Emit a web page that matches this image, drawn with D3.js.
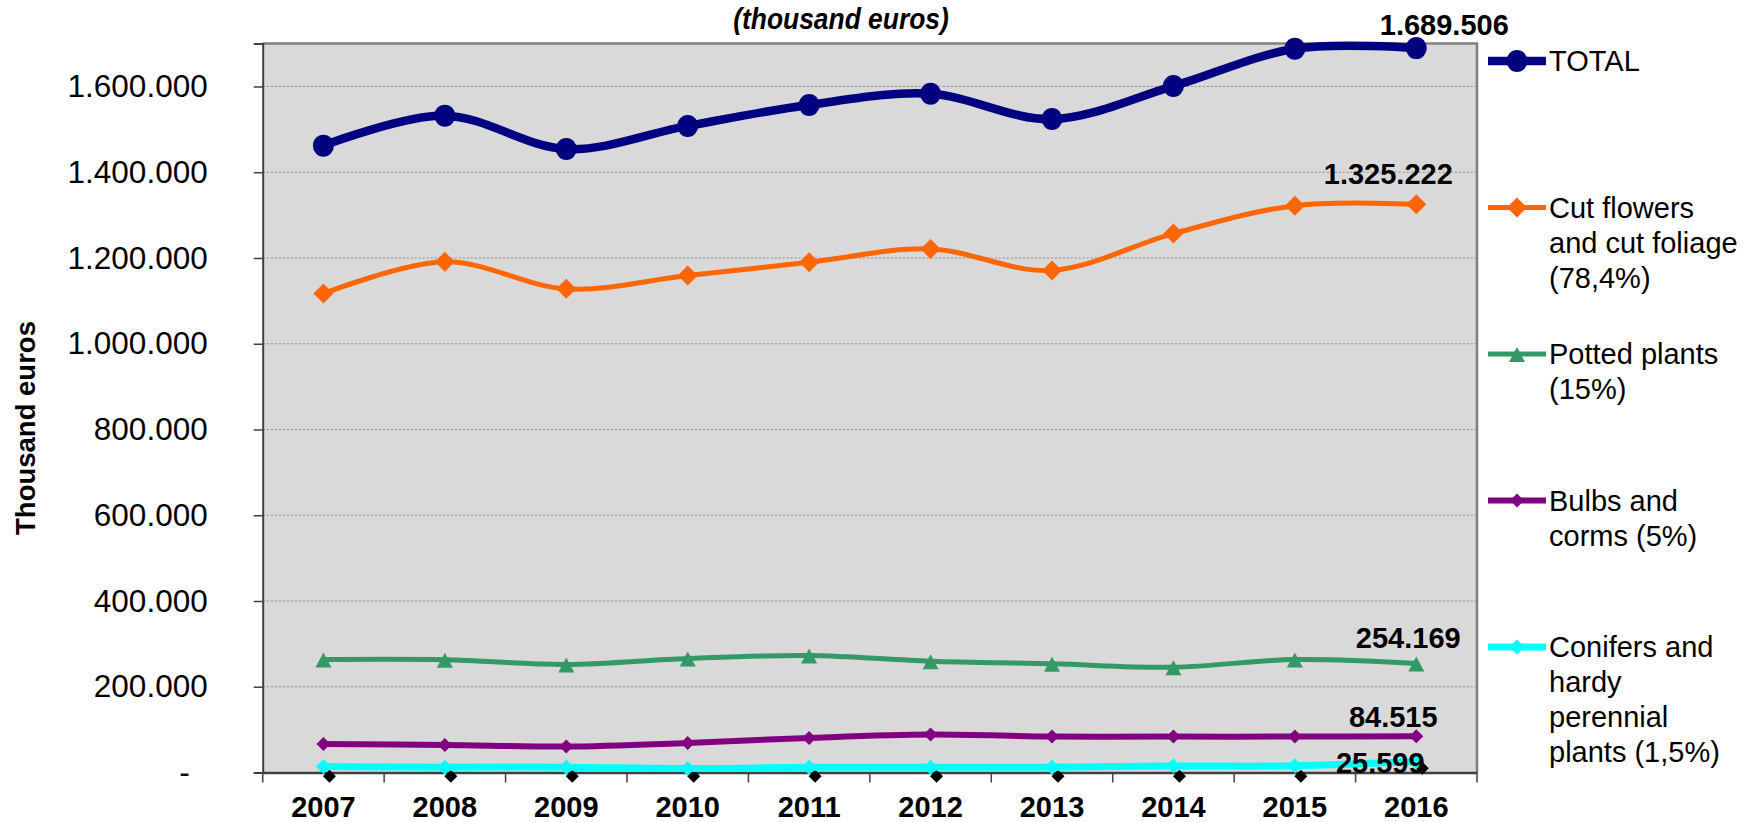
<!DOCTYPE html>
<html>
<head>
<meta charset="utf-8">
<script src="https://cdn.jsdelivr.net/npm/d3@7/dist/d3.min.js"></script>
<style>
	body { margin: 0; background: #ffffff; }
	svg { display: block; font-family: "Liberation Sans", Arial, sans-serif; }
</style>
</head>
<body>
<div id="chart"></div>
<script>

var years = ["2007", "2008", "2009", "2010", "2011", "2012", "2013", "2014", "2015", "2016"];
var totalVals = [1462000, 1532000, 1454000, 1508000, 1557000, 1583000, 1524000, 1601000, 1688000, 1689506];
var cutFlowerVals = [1117000, 1191000, 1128000, 1159000, 1190000, 1221000, 1171000, 1257000, 1322000, 1325222];
var pottedVals = [263500, 263000, 252000, 266000, 272800, 259600, 253500, 245600, 263500, 254169];
var bulbVals = [66700, 64400, 60500, 69000, 80700, 88400, 83700, 83700, 83700, 84515];
var coniferVals = [14000, 12500, 12500, 9500, 12000, 12000, 12500, 15000, 15500, 25599];
var otherVals = [-9000, -9000, -9000, -9000, -9000, -9000, -9000, -9000, -9000, 10000];
var yTicks = [0, 200000, 400000, 600000, 800000, 1000000, 1200000, 1400000, 1600000];
var legendLabels = [
	["TOTAL"],
	["Cut flowers", "and cut foliage", "(78,4%)"],
	["Potted plants", "(15%)"],
	["Bulbs and", "corms (5%)"],
	["Conifers and", "hardy", "perennial", "plants (1,5%)"]
];

var esLocale = d3.formatLocale({decimal: ",", thousands: ".", grouping: [3], currency: ["", " €"]});
var fmt = esLocale.format(",d");

var plotL = 262.7, plotR = 1477, plotT = 43.6, plotB = 772.5;

var svg = d3.select("#chart").append("svg")
	.attr("width", 1744)
	.attr("height", 822);

var x = d3.scaleBand()
	.domain(years)
	.range([plotL, plotR])
	.padding(0);

var y = d3.scaleLinear()
	.domain([0, 1700000])
	.range([plotB, plotT]);

function cx(d, i) { return x(years[i]) + x.bandwidth() / 2; }

// plot background
svg.append("rect")
	.attr("x", plotL)
	.attr("y", plotT)
	.attr("width", plotR - plotL)
	.attr("height", plotB - plotT)
	.attr("fill", "#d9d9d9");

// gridlines
svg.append("g")
	.selectAll("line")
	.data(yTicks.filter(function (d) { return d > 0; }))
	.enter()
	.append("line")
	.attr("x1", plotL)
	.attr("x2", plotR)
	.attr("y1", function (d) { return y(d); })
	.attr("y2", function (d) { return y(d); })
	.attr("stroke", "#8c8c8c")
	.attr("stroke-width", 1)
	.attr("stroke-dasharray", "2,2");

// frame top + right
svg.append("path")
	.attr("d", "M" + plotL + "," + plotT + "H" + plotR + "V" + plotB)
	.attr("fill", "none")
	.attr("stroke", "#808080")
	.attr("stroke-width", 2.5);

// y axis
var yAxis = svg.append("g")
	.attr("transform", "translate(" + plotL + ",0)")
	.call(d3.axisLeft(y)
		.tickValues(yTicks)
		.tickSize(9)
		.tickPadding(46)
		.tickFormat(function (d) { return d === 0 ? "-" : fmt(d); }));
yAxis.select(".domain").attr("stroke", "#404040").attr("stroke-width", 2);
yAxis.selectAll(".tick line").attr("stroke", "#404040").attr("stroke-width", 1.5);
yAxis.selectAll("text")
	.attr("font-size", "31.5px")
	.attr("font-family", "'Liberation Sans', Arial, sans-serif")
	.attr("fill", "#000");
yAxis.selectAll(".tick")
	.filter(function (d) { return d === 0; })
	.select("text")
	.attr("dx", "-18");

// x axis
var xAxis = svg.append("g")
	.attr("transform", "translate(0," + plotB + ")")
	.call(d3.axisBottom(x).tickSize(0).tickPadding(24));
xAxis.select(".domain").attr("stroke", "#404040").attr("stroke-width", 2.5);
xAxis.selectAll("text")
	.attr("font-size", "29px")
	.attr("font-weight", "bold")
	.attr("font-family", "'Liberation Sans', Arial, sans-serif")
	.attr("fill", "#000");
xAxis.selectAll("line.bound")
	.data(d3.range(years.length + 1))
	.enter()
	.append("line")
	.attr("class", "bound")
	.attr("x1", function (d) { return plotL + d * x.step(); })
	.attr("x2", function (d) { return plotL + d * x.step(); })
	.attr("y1", 0)
	.attr("y2", 10)
	.attr("stroke", "#404040")
	.attr("stroke-width", 1.5);

// y title
svg.append("text")
	.attr("transform", "translate(35,428) rotate(-90)")
	.attr("text-anchor", "middle")
	.attr("font-size", "27.5px")
	.attr("font-weight", "bold")
	.text("Thousand euros");

// subtitle
svg.append("text")
	.attr("transform", "translate(841,29) scale(0.88,1)")
	.attr("text-anchor", "middle")
	.attr("font-size", "30px")
	.attr("font-weight", "bold")
	.attr("font-style", "italic")
	.text("(thousand euros)");

// marker shapes
function diamond(w, h) { return "M0," + (-h) + "L" + w + ",0L0," + h + "L" + (-w) + ",0Z"; }
var markers = {
	circle: "M-10.5,0A10.5,11 0 1,0 10.5,0A10.5,11 0 1,0 -10.5,0Z",
	bigDiamond: diamond(10, 10),
	triangle: "M0,-7L8,8L-8,8Z",
	smallDiamond: diamond(7, 7),
	cyanDiamond: diamond(7.5, 7.5),
	blackDiamond: diamond(6.5, 6.5)
};

var series = [
	{name: "TOTAL", values: totalVals, color: "#000080", width: 8.5, marker: "circle", dx: 28, dy: -13},
	{name: "Cut flowers", values: cutFlowerVals, color: "#ff6600", width: 5, marker: "bigDiamond", dx: -28, dy: -20},
	{name: "Potted plants", values: pottedVals, color: "#339966", width: 5, marker: "triangle", dx: -8, dy: -16},
	{name: "Bulbs", values: bulbVals, color: "#800080", width: 6, marker: "smallDiamond", dx: -23, dy: -9},
	{name: "Conifers", values: coniferVals, color: "#00ffff", width: 7, marker: "cyanDiamond", dx: -36, dy: 11.5}
];

var line = d3.line()
	.x(cx)
	.y(function (d) { return y(d); })
	.curve(d3.curveCardinal.tension(0));

// hidden black series markers (drawn first)
svg.append("g")
	.selectAll("path")
	.data(otherVals)
	.enter()
	.append("path")
	.attr("d", markers.blackDiamond)
	.attr("fill", "#000")
	.attr("transform", function (d, i) { return "translate(" + (cx(d, i) + 6) + "," + y(d) + ")"; });

series.slice().reverse().forEach(function (s) {
	var g = svg.append("g");
	g.append("path")
		.attr("d", line(s.values))
		.attr("fill", "none")
		.attr("stroke", s.color)
		.attr("stroke-width", s.width)
		.attr("stroke-linejoin", "round");
	g.selectAll("path.mk")
		.data(s.values)
		.enter()
		.append("path")
		.attr("class", "mk")
		.attr("d", markers[s.marker])
		.attr("fill", s.color)
		.attr("transform", function (d, i) { return "translate(" + cx(d, i) + "," + y(d) + ")"; });
});

// end labels
svg.append("g")
	.selectAll("text")
	.data(series)
	.enter()
	.append("text")
	.attr("x", function (s) { return cx(0, years.length - 1) + s.dx; })
	.attr("y", function (s) { return y(s.values[years.length - 1]) + s.dy; })
	.attr("text-anchor", "middle")
	.attr("font-size", "29px")
	.attr("font-weight", "bold")
	.text(function (s) { return fmt(s.values[years.length - 1]); });

// legend
var legend = svg.append("g")
	.selectAll("g")
	.data(series)
	.enter()
	.append("g")
	.attr("transform", function (s, i) { return "translate(1488," + (61 + i * 146.5) + ")"; });

legend.append("line")
	.attr("x1", 0)
	.attr("x2", 58)
	.attr("stroke", function (s) { return s.color; })
	.attr("stroke-width", function (s) { return s.width; });

legend.append("path")
	.attr("d", function (s) { return markers[s.marker]; })
	.attr("fill", function (s) { return s.color; })
	.attr("transform", "translate(29,0)");

legend.append("text")
	.attr("x", 61)
	.attr("font-size", "29px")
	.selectAll("tspan")
	.data(function (s, i) { return legendLabels[i]; })
	.enter()
	.append("tspan")
	.attr("x", 61)
	.attr("y", function (d, j) { return j * 35; })
	.attr("dy", "0.36em")
	.text(function (d) { return d; });

</script>
</body>
</html>
